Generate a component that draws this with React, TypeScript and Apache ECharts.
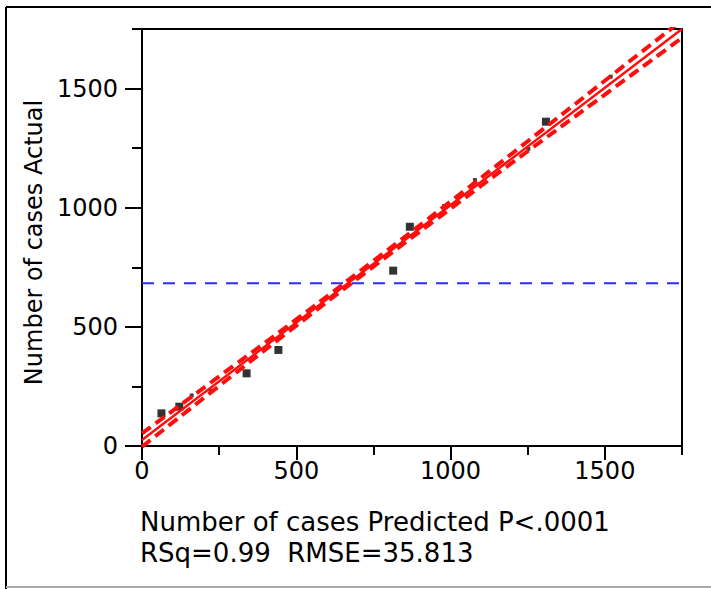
import React, { useEffect, useRef } from "react";
import * as echarts from "echarts";

// Observed points (large markers)
const predictedA = [63, 121, 339, 442, 814, 868, 1309];
const actualA = [137, 165, 305, 403, 736, 920, 1361];
// Observed points (faint / partly hidden markers)
const predictedB = [161, 222, 979, 1079, 1252, 1519];
const actualB = [212, 232, 1007, 1116, 1247, 1550];

// Fit line
const fitX = [0, 1750];
const fitY = [25, 1750];

// Confidence band read at these x values
const bandX = [0, 250, 500, 750, 1000, 1250, 1500, 1750];
const upperY = [53, 292, 531, 777, 1026, 1279, 1533, 1787];
const lowerY = [-3, 252, 505, 753, 996, 1237, 1475, 1713];

// Mean of actual
const meanActual = 683;
const meanX = [0, 1750];

// Ticks
const majorTicks = [0, 500, 1000, 1500];
const minorTicks = [250, 750, 1250, 1750];

const FONT = "DejaVu Sans";

export default function App() {
  const ref = useRef<HTMLDivElement>(null);
  useEffect(() => {
    if (!ref.current) return;
    const chart = echarts.init(ref.current, undefined, { renderer: "svg" });
    const pairs = (xs: number[], ys: number[]) => xs.map((x, i) => [x, ys[i]]);
    const axisCommon = {
      type: "value" as const,
      min: 0,
      max: 1750,
      interval: 250,
      splitLine: { show: false },
    };
    const plain = (v: number) => String(v);
    chart.setOption({
      animation: false,
      backgroundColor: "#fff",
      title: {
        left: 140,
        top: 509,
        text: "Number of cases Predicted P<.0001",
        subtext: "RSq=0.99  RMSE=35.813",
        itemGap: 5,
        padding: 0,
        textStyle: { fontFamily: FONT, fontSize: 26, fontWeight: "normal", color: "#000" },
        subtextStyle: { fontFamily: FONT, fontSize: 26, color: "#000" },
      },
      grid: {
        left: 142,
        right: 29,
        top: 29,
        bottom: 143,
        show: true,
        borderColor: "#000",
        borderWidth: 2,
        backgroundColor: "#fff",
      },
      xAxis: [
        {
          ...axisCommon,
          position: "bottom",
          axisLine: { show: true, onZero: false, lineStyle: { color: "#000", width: 2 } },
          axisTick: { show: true, customValues: majorTicks, length: 14, lineStyle: { color: "#000", width: 2 } },
          axisLabel: { customValues: majorTicks, formatter: plain, margin: 13, fontFamily: FONT, fontSize: 24, color: "#000" },
        },
        {
          ...axisCommon,
          position: "bottom",
          axisLine: { show: false, onZero: false },
          axisTick: { show: true, customValues: minorTicks, length: 9, lineStyle: { color: "#000", width: 2 } },
          axisLabel: { show: false },
        },
      ],
      yAxis: [
        {
          ...axisCommon,
          position: "left",
          name: "Number of cases Actual",
          nameLocation: "middle",
          nameGap: 79,
          nameTextStyle: { fontFamily: FONT, fontSize: 24, color: "#000", padding: [0, 10, 0, 0] },
          axisLine: { show: true, onZero: false, lineStyle: { color: "#000", width: 2 } },
          axisTick: { show: true, customValues: majorTicks, length: 17, lineStyle: { color: "#000", width: 2 } },
          axisLabel: { customValues: majorTicks, formatter: plain, margin: 24, fontFamily: FONT, fontSize: 24, color: "#000" },
        },
        {
          ...axisCommon,
          position: "left",
          axisLine: { show: false, onZero: false },
          axisTick: { show: true, customValues: minorTicks, length: 10, lineStyle: { color: "#000", width: 2 } },
          axisLabel: { show: false },
        },
      ],
      graphic: [
        { type: "line", shape: { x1: 6, y1: 7, x2: 711, y2: 7 }, style: { stroke: "#000", lineWidth: 2 } },
        { type: "line", shape: { x1: 6, y1: 7, x2: 6, y2: 589 }, style: { stroke: "#000", lineWidth: 2 } },
        { type: "line", shape: { x1: 6, y1: 587, x2: 711, y2: 587 }, style: { stroke: "#aaa", lineWidth: 2 } },
      ],
      series: [
        {
          type: "line",
          data: pairs(meanX, [meanActual, meanActual]),
          symbol: "none",
          lineStyle: { color: "#2b2bff", width: 2, type: [12, 9] },
          z: 1,
        },
        {
          type: "scatter",
          data: pairs(predictedA, actualA),
          symbol: "rect",
          symbolSize: 8,
          itemStyle: { color: "#000" },
          z: 2,
        },
        {
          type: "scatter",
          data: pairs(predictedB, actualB),
          symbol: "rect",
          symbolSize: 4,
          itemStyle: { color: "#111" },
          z: 2,
        },
        {
          type: "line",
          data: pairs(bandX, upperY),
          symbol: "none",
          smooth: true,
          lineStyle: { color: "#ff0d0d", width: 4, type: [11, 6] },
          z: 3,
        },
        {
          type: "line",
          data: pairs(bandX, lowerY),
          symbol: "none",
          smooth: true,
          lineStyle: { color: "#ff0d0d", width: 4, type: [11, 6] },
          z: 3,
        },
        {
          type: "line",
          data: pairs(fitX, fitY),
          symbol: "none",
          lineStyle: { color: "#ff0d0d", width: 2.5 },
          z: 4,
        },
      ],
    });
    return () => chart.dispose();
  }, []);
  return (
    <div
      ref={ref}
      style={{ position: "fixed", left: 0, top: 0, width: 711, height: 589, background: "#fff" }}
    />
  );
}
